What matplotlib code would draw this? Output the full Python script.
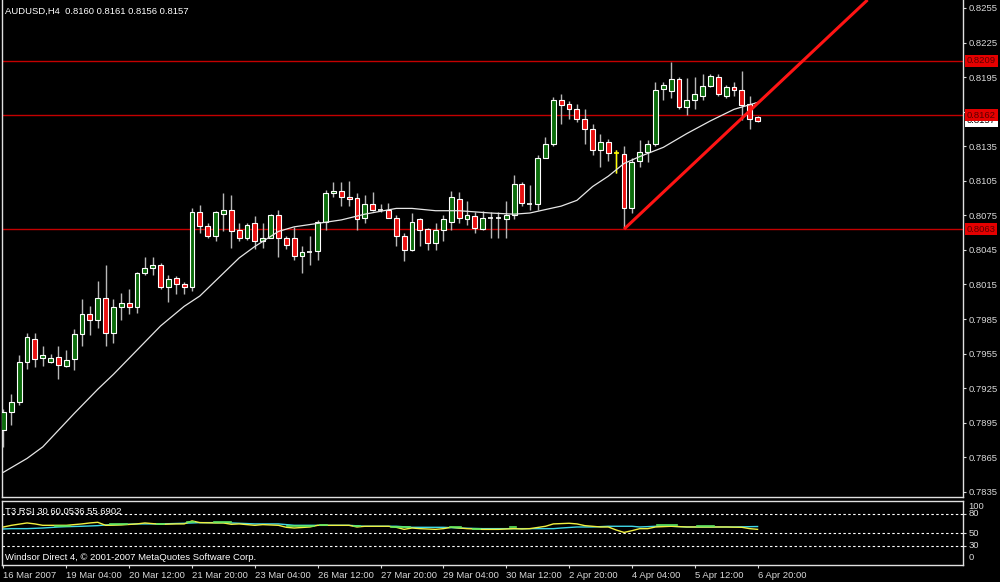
import matplotlib
matplotlib.use("Agg")
import matplotlib.pyplot as plt
import matplotlib.transforms as mtransforms

plt.rcParams["font.family"] = ["Liberation Sans", "DejaVu Sans"]

# H4 candles, bar index 0..96
opens = [0.7889, 0.7904, 0.7913, 0.7948, 0.7968, 0.7951, 0.7948, 0.7952, 0.7944, 0.7950,
         0.7972, 0.7989, 0.7984, 0.8003, 0.7973, 0.7995, 0.7999, 0.7995, 0.8025, 0.8029,
         0.8032, 0.8013, 0.8021, 0.8015, 0.8013, 0.8078, 0.8066, 0.8057, 0.8076, 0.8080,
         0.8062, 0.8055, 0.8068, 0.8053, 0.8055, 0.8075, 0.8055, 0.8055, 0.8040, 0.8043,
         0.8044, 0.8069, 0.8094, 0.8096, 0.8091, 0.8090, 0.8073, 0.8085, 0.8080, 0.8080,
         0.8073, 0.8057, 0.8045, 0.8072, 0.8063, 0.8051, 0.8062, 0.8069, 0.8089, 0.8072,
         0.8074, 0.8063, 0.8073, 0.8073, 0.8072, 0.8075, 0.8102, 0.8085, 0.8085, 0.8125,
         0.8137, 0.8175, 0.8172, 0.8167, 0.8159, 0.8150, 0.8132, 0.8139, 0.8129, 0.8128,
         0.8081, 0.8122, 0.8130, 0.8137, 0.8185, 0.8183, 0.8193, 0.8169, 0.8175, 0.8179,
         0.8187, 0.8195, 0.8179, 0.8186, 0.8184, 0.8172, 0.8160]
highs = [0.7907, 0.7920, 0.7954, 0.7973, 0.7973, 0.7962, 0.7955, 0.7962, 0.7958, 0.7976,
         0.8002, 0.7996, 0.8018, 0.8032, 0.8002, 0.8008, 0.8011, 0.8026, 0.8039, 0.8039,
         0.8034, 0.8023, 0.8022, 0.8017, 0.8081, 0.8084, 0.8068, 0.8079, 0.8094, 0.8093,
         0.8068, 0.8068, 0.8074, 0.8068, 0.8076, 0.8080, 0.8057, 0.8065, 0.8048, 0.8057,
         0.8071, 0.8097, 0.8104, 0.8104, 0.8105, 0.8094, 0.8093, 0.8095, 0.8085, 0.8086,
         0.8075, 0.8060, 0.8077, 0.8073, 0.8064, 0.8068, 0.8075, 0.8096, 0.8095, 0.8087,
         0.8078, 0.8079, 0.8078, 0.8078, 0.8087, 0.8110, 0.8104, 0.8101, 0.8127, 0.8143,
         0.8178, 0.8180, 0.8174, 0.8172, 0.8167, 0.8154, 0.8146, 0.8141, 0.8132, 0.8135,
         0.8125, 0.8140, 0.8140, 0.8191, 0.8191, 0.8208, 0.8195, 0.8194, 0.8195, 0.8198,
         0.8198, 0.8198, 0.8188, 0.8191, 0.8200, 0.8179, 0.8161]
lows = [0.7874, 0.7893, 0.7910, 0.7942, 0.7943, 0.7944, 0.7947, 0.7933, 0.7943, 0.7941,
        0.7962, 0.7971, 0.7977, 0.7962, 0.7964, 0.7984, 0.7989, 0.7990, 0.8023, 0.8023,
        0.8011, 0.8000, 0.8007, 0.8007, 0.8009, 0.8060, 0.8055, 0.8053, 0.8061, 0.8047,
        0.8053, 0.8054, 0.8046, 0.8047, 0.8055, 0.8039, 0.8046, 0.8036, 0.8025, 0.8032,
        0.8036, 0.8062, 0.8091, 0.8083, 0.8083, 0.8062, 0.8068, 0.8079, 0.8078, 0.8073,
        0.8048, 0.8035, 0.8044, 0.8048, 0.8045, 0.8045, 0.8053, 0.8062, 0.8068, 0.8067,
        0.8060, 0.8062, 0.8055, 0.8055, 0.8055, 0.8072, 0.8083, 0.8080, 0.8080, 0.8125,
        0.8135, 0.8154, 0.8159, 0.8156, 0.8137, 0.8127, 0.8117, 0.8122, 0.8112, 0.8064,
        0.8077, 0.8117, 0.8121, 0.8135, 0.8175, 0.8177, 0.8167, 0.8162, 0.8167, 0.8175,
        0.8186, 0.8179, 0.8177, 0.8179, 0.8158, 0.8150, 0.8156]
closes = [0.7904, 0.7913, 0.7948, 0.7969, 0.7950, 0.7954, 0.7951, 0.7945, 0.7949, 0.7972,
          0.7989, 0.7984, 0.8003, 0.7973, 0.7995, 0.7999, 0.7995, 0.8025, 0.8029, 0.8032,
          0.8013, 0.8020, 0.8015, 0.8013, 0.8078, 0.8066, 0.8057, 0.8078, 0.8080, 0.8061,
          0.8055, 0.8067, 0.8053, 0.8055, 0.8075, 0.8055, 0.8049, 0.8040, 0.8043, 0.8043,
          0.8069, 0.8094, 0.8096, 0.8091, 0.8089, 0.8072, 0.8085, 0.8080, 0.8080, 0.8073,
          0.8057, 0.8045, 0.8069, 0.8062, 0.8051, 0.8062, 0.8072, 0.8091, 0.8073, 0.8075,
          0.8064, 0.8073, 0.8073, 0.8073, 0.8075, 0.8102, 0.8086, 0.8085, 0.8125, 0.8137,
          0.8175, 0.8171, 0.8167, 0.8159, 0.8150, 0.8132, 0.8139, 0.8129, 0.8129, 0.8081,
          0.8121, 0.8130, 0.8137, 0.8184, 0.8188, 0.8193, 0.8169, 0.8175, 0.8180, 0.8187,
          0.8196, 0.8180, 0.8186, 0.8184, 0.8171, 0.8159, 0.8157]

# moving average (white line)
ma_bars = [0, 3, 5, 9, 12, 14, 17, 20, 23, 25, 30, 32, 35, 37, 40, 43, 46, 50, 52, 55,
           58, 62, 65, 67, 69, 71, 73, 75, 77, 79, 81, 84, 87, 90, 93, 96]
ma_values = [0.7852, 0.7864, 0.7874, 0.7903, 0.7924, 0.7937, 0.7958, 0.7979, 0.7996, 0.8005,
             0.8038, 0.8048, 0.8061, 0.8065, 0.8068, 0.8071, 0.8076, 0.8081, 0.8081, 0.8079,
             0.8079, 0.8077, 0.8076, 0.8077, 0.8080, 0.8083, 0.8088, 0.8100, 0.8109, 0.8120,
             0.8126, 0.8134, 0.8146, 0.8157, 0.8167, 0.8173]

hlines = [0.8209, 0.8162, 0.8063]
trend_bars = [79, 110]
trend_prices = [0.8063, 0.8262]
bid = 0.8157

# T3 RSI panel
yellow_bars = [0, 1, 3, 4, 5, 8, 10, 11, 12, 13, 15, 17, 18, 20, 22, 23, 24, 25, 27, 28,
               29, 30, 32, 33, 35, 36, 37, 39, 40, 42, 44, 45, 46, 49, 50, 51, 52, 53, 55, 56,
               57, 59, 61, 63, 65, 66, 67, 69, 70, 72, 73, 74, 76, 77, 78, 79, 80, 81, 82, 83,
               85, 87, 89, 90, 92, 94, 95, 96]
yellow_rsi = [59.4, 62.0, 65.7, 64.2, 62.0, 62.0, 64.2, 65.7, 66.7, 62.0, 62.6, 64.2, 65.7, 63.6,
              64.2, 64.2, 68.9, 66.2, 65.7, 65.7, 63.6, 64.2, 62.0, 63.1, 62.0, 58.9, 57.8, 59.4,
              62.0, 62.0, 62.0, 59.4, 60.5, 60.5, 58.9, 55.7, 57.8, 56.8, 55.7, 56.8, 58.9, 56.8,
              55.7, 55.7, 56.8, 56.3, 56.8, 60.5, 64.2, 65.2, 64.2, 61.5, 59.4, 59.4, 54.7, 50.9,
              53.6, 56.8, 56.8, 59.4, 60.5, 59.4, 59.4, 59.4, 59.4, 58.9, 56.8, 55.7]
cyan_bars = [0, 1, 3, 5, 7, 8, 10, 12, 13, 17, 20, 23, 25, 28, 30, 32, 34, 35, 37, 40,
             41, 44, 46, 48, 50, 52, 54, 56, 58, 61, 63, 67, 70, 71, 73, 75, 77, 80, 81, 83,
             85, 87, 90, 93, 96]
cyan_rsi = [56.3, 56.8, 56.8, 57.8, 59.4, 59.9, 60.5, 61.5, 62.6, 64.2, 64.2, 65.2, 66.2, 66.2,
            65.2, 64.2, 64.2, 64.2, 62.0, 62.0, 62.0, 62.0, 60.5, 60.5, 60.5, 58.9, 58.9, 58.9,
            57.8, 56.8, 56.8, 56.8, 56.8, 57.8, 59.4, 59.4, 60.5, 60.5, 59.4, 60.5, 60.5, 59.4,
            59.4, 59.4, 60.1]
green_segments = [(6.6, 8.5, 60.5), (13.6, 15.7, 64.2), (19.6, 20.4, 64.2), (23.4, 24.2, 67.2),
                  (26.8, 28.9, 67.2), (36.1, 39.5, 61.5), (40.3, 41.2, 63.1), (44.6, 45.4, 60.5),
                  (49.3, 51.8, 58.9), (56.9, 58.2, 58.9), (59.8, 60.7, 56.8), (64.5, 65.3, 59.4),
                  (83.2, 85.8, 62.0), (88.3, 90.4, 60.5)]
rsi_levels = [80, 50, 30]

x_label_bars = [0, 8, 16, 24, 32, 40, 48, 56, 64, 72, 80, 88, 96]
x_labels = ["16 Mar 2007", "19 Mar 04:00", "20 Mar 12:00", "21 Mar 20:00", "23 Mar 04:00",
            "26 Mar 12:00", "27 Mar 20:00", "29 Mar 04:00", "30 Mar 12:00", "2 Apr 20:00",
            "4 Apr 04:00", "5 Apr 12:00", "6 Apr 20:00"]
price_ticks = [0.7835, 0.7865, 0.7895, 0.7925, 0.7955, 0.7985, 0.8015, 0.8045, 0.8075,
               0.8105, 0.8135, 0.8165, 0.8195, 0.8225, 0.8255]

BG = "black"
FG = "#d8d8d8"
FS = 6.8
W, H = 1000, 582

fig = plt.figure(figsize=(W / 100, H / 100), dpi=100, facecolor=BG)
ax = fig.add_axes([2 / W, 1 - 497 / H, 961 / W, 497 / H], facecolor=BG)
ax_rsi = fig.add_axes([2 / W, 1 - 565 / H, 961 / W, 64 / H], facecolor=BG)

xlim = (-0.19, 122.15)

# candles
idx = list(range(len(opens)))
ax.vlines(idx, lows, highs, color="#b8b8b8", lw=1, zorder=2)
for i, o, c in zip(idx, opens, closes):
    if abs(c - o) < 0.00004:
        col = "#ffff00" if i == 78 else "white"
        ax.hlines(o, i - 0.33, i + 0.33, color=col, lw=1.2, zorder=3)
        if i == 78:
            ax.vlines(i, lows[i], highs[i], color=col, lw=1, zorder=3)
        continue
    fill = "#0b6b0b" if c > o else "#e81010"
    ax.bar(i, c - o, bottom=o, width=0.62, color=fill, edgecolor="white", lw=0.8, zorder=3)

ax.plot(ma_bars, ma_values, color="#e6e6e6", lw=0.9, zorder=4)

for p in hlines:
    ax.axhline(p, color="#c40000", lw=1, zorder=1)
ax.plot(trend_bars, trend_prices, color="#ff1414", lw=2.2, zorder=5, solid_capstyle="butt")

ax.set_xlim(*xlim)
ax.set_ylim(0.78305, 0.82619)
ax.yaxis.tick_right()
ax.set_yticks(price_ticks)
ax.set_yticklabels([f"{p:.4f}" for p in price_ticks])
ax.tick_params(axis="y", colors=FG, labelsize=FS, length=2.5, pad=1.5, width=0.8)
ax.set_xticks([])
for side in ("left", "right", "bottom"):
    ax.spines[side].set_color("#e0e0e0")
    ax.spines[side].set_linewidth(1)
ax.spines["top"].set_visible(False)

# price boxes at the right edge
trans = mtransforms.blended_transform_factory(ax.transAxes, ax.transData)
ax.text(1.004, bid, f"{bid:.4f}", transform=trans, ha="left", va="center", fontsize=FS,
        color="black", clip_on=False, zorder=6,
        bbox=dict(boxstyle="square,pad=0.18", fc="white", ec="none"))
for p in hlines:
    ax.text(1.004, p, f"{p:.4f}", transform=trans, ha="left", va="center", fontsize=FS,
            color="#5a0000", clip_on=False, zorder=7,
            bbox=dict(boxstyle="square,pad=0.18", fc="#e40000", ec="none"))

fig.text(5 / W, 1 - 11 / H, "AUDUSD,H4  0.8160 0.8161 0.8156 0.8157", color="white",
         fontsize=FS, ha="left", va="center")

# RSI panel
for lv in rsi_levels:
    ax_rsi.axhline(lv, color="white", lw=0.8, dashes=(2.2, 2.2), zorder=1)
ax_rsi.plot(cyan_bars, cyan_rsi, color="#40d8e8", lw=1, zorder=2)
ax_rsi.plot(yellow_bars, yellow_rsi, color="#f0f040", lw=1, zorder=3)
for b0, b1, v in green_segments:
    ax_rsi.plot([b0, b1], [v, v], color="#60e860", lw=1.2, zorder=4)
ax_rsi.set_xlim(*xlim)
ax_rsi.set_ylim(0, 100)
ax_rsi.yaxis.tick_right()
ax_rsi.set_yticks(rsi_levels)
ax_rsi.set_yticklabels([])
ax_rsi.tick_params(axis="y", colors=FG, length=2.5, width=0.8)
rtrans = mtransforms.blended_transform_factory(ax_rsi.transAxes, ax_rsi.transData)
for lab, yv in [("100", 91), ("80", 80), ("50", 50), ("30", 30), ("0", 11)]:
    ax_rsi.text(1.006, yv, lab, transform=rtrans, ha="left", va="center", fontsize=FS,
                color=FG, clip_on=False)
ax_rsi.set_xticks(x_label_bars)
ax_rsi.set_xticklabels(x_labels)
ax_rsi.tick_params(axis="x", colors=FG, labelsize=FS, length=2.5, pad=2, width=0.8)
for lab in ax_rsi.get_xticklabels():
    lab.set_ha("left")
for side in ax_rsi.spines:
    ax_rsi.spines[side].set_color("#e0e0e0")
    ax_rsi.spines[side].set_linewidth(1)

fig.text(5 / W, 1 - 511 / H, "T3 RSI 30 60.0536 55.6902", color="white", fontsize=FS,
         ha="left", va="center")
fig.text(5 / W, 1 - 557 / H, "Windsor Direct 4, \u00a9 2001-2007 MetaQuotes Software Corp.",
         color="white", fontsize=FS, ha="left", va="center")

fig.savefig("out.png", dpi=100, facecolor=BG)
